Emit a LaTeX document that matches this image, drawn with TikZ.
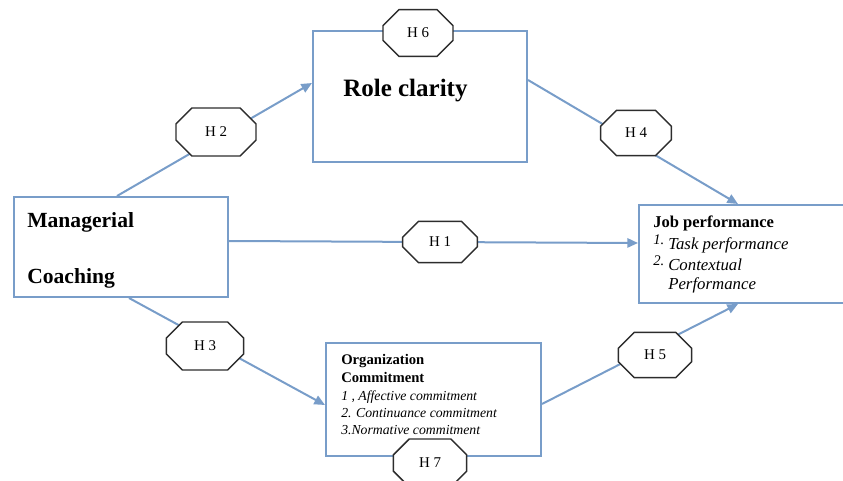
\documentclass[tikz,border=0pt]{standalone}
\usepackage{fontspec}
\setmainfont{Liberation Serif}
\usetikzlibrary{shapes.misc,arrows.meta}
\definecolor{lineblue}{RGB}{120,157,201}
\definecolor{octgray}{RGB}{45,45,45}
\begin{document}
\begin{tikzpicture}[x=0.75pt,y=-0.75pt,
  box/.style={draw=lineblue, line width=1.5pt, fill=white, inner sep=0pt, anchor=north west},
  conn/.style={draw=lineblue, line width=1.5pt, -{Triangle[length=8pt,width=7pt]}},
  hyp/.style={chamfered rectangle, chamfered rectangle xsep=10pt, chamfered rectangle ysep=10pt,
    draw=octgray, line width=1.1pt, fill=white, inner sep=0pt,
    font=\fontsize{11.2}{13}\selectfont},
  txt/.style={anchor=base west, inner sep=0pt},
  bigb/.style={txt, font=\fontsize{16.2}{19}\selectfont\bfseries},
  jpb/.style={txt, font=\fontsize{12.4}{15}\selectfont\bfseries},
  jpi/.style={txt, font=\fontsize{12.6}{15}\selectfont\itshape},
  jpn/.style={txt, font=\fontsize{11}{13}\selectfont\itshape},
  ocb/.style={txt, font=\fontsize{11}{13}\selectfont\bfseries},
  oci/.style={txt, font=\fontsize{10.3}{12}\selectfont\itshape}
]
\useasboundingbox (0,0) rectangle (843,481);

% boxes
\node[box, minimum width=160.5pt, minimum height=75pt] (mc) at (13,196) {};
\node[box, minimum width=160.5pt, minimum height=98.25pt] (rc) at (312,30) {};
\node[box, minimum width=172.5pt, minimum height=73.5pt] (jp) at (638,204) {};
\node[box, minimum width=161.25pt, minimum height=84.75pt] (oc) at (325,342) {};

% texts
\node[bigb] (mc1) at (27,228) {Managerial};
\node[bigb] (mc2) at (27,283) {Coaching};
\node[txt, font=\fontsize{18.75}{22}\selectfont\bfseries] (rc1) at (343,97) {Role clarity};
\node[jpb] (jp1) at (653,228) {Job performance};
\node[jpn] (jpn1) at (653,244) {1.};
\node[jpi] (jp2) at (668,250) {Task performance};
\node[jpn] (jpn2) at (653,266) {2.};
\node[jpi] (jp3) at (668,271) {Contextual};
\node[jpi] (jp4) at (668,290) {Performance};
\node[ocb] (oc1) at (341,364) {Organization};
\node[ocb] (oc2) at (341,382) {Commitment};
\node[oci] (oc3) at (341,400) {1 , Affective commitment};
\node[oci] (oc4) at (341,417) {2. Continuance commitment};
\node[oci] (oc5) at (341,434) {3.Normative commitment};

% connectors
\draw[conn] ([xshift=78pt]mc.north west) -- ([yshift=-39.75pt]rc.north west);
\draw[conn] ([yshift=-37.5pt]rc.north east) -- ([xshift=75pt]jp.north west);
\draw[conn] ([yshift=-33.75pt]mc.north east) -- ([yshift=-29.25pt]jp.north west);
\draw[conn] ([xshift=87pt]mc.south west) -- ([yshift=-47.25pt]oc.north west);
\draw[conn] ([yshift=-46.5pt]oc.north east) -- ([xshift=75pt]jp.south west);

% hypotheses
\node[hyp, minimum width=52.5pt, minimum height=35pt] (h6) at (418,33) {H 6};
\node[hyp, minimum width=60pt, minimum height=36pt] (h2) at (216,132) {H 2};
\node[hyp, minimum width=53pt, minimum height=34pt] (h4) at (636,133) {H 4};
\node[hyp, minimum width=56pt, minimum height=31pt] (h1) at (440,242) {H 1};
\node[hyp, minimum width=58pt, minimum height=36pt] (h3) at (205,346) {H 3};
\node[hyp, minimum width=55pt, minimum height=34pt] (h5) at (655,355) {H 5};
\node[hyp, minimum width=55pt, minimum height=36pt] (h7) at (430,463) {H 7};
\end{tikzpicture}
\end{document}
